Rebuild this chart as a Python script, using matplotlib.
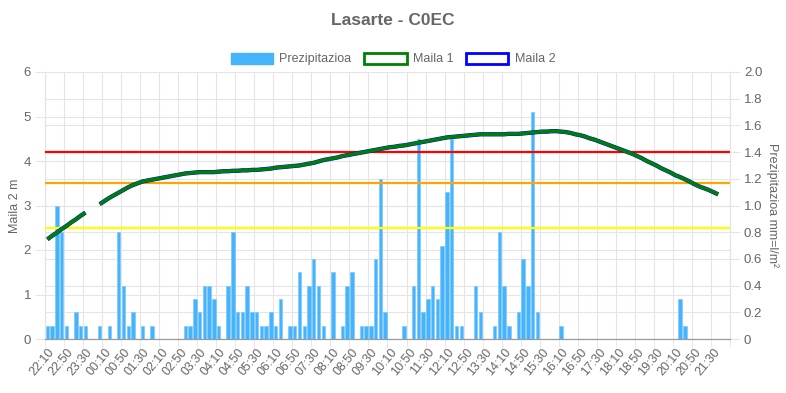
import numpy as np
import matplotlib
matplotlib.use('Agg')
import matplotlib.pyplot as plt
from matplotlib.patches import Patch
from matplotlib.ticker import FixedLocator, FuncFormatter

plt.rcParams['font.family'] = ['Liberation Sans', 'DejaVu Sans']

# denborak (10 minuturo), 22:10 -> 22:00
start = 22 * 60 + 10
times = ['%02d:%02d' % (((start + 10 * i) // 60) % 24, (start + 10 * i) % 60) for i in range(144)]

# prezipitazioa mm
prezipitazioa = [
    0.1, 0.1, 1.0, 0.8, 0.1, 0, 0.2, 0.1, 0.1, 0, 0, 0.1, 0, 0.1, 0, 0.8,
    0.4, 0.1, 0.2, 0, 0.1, 0, 0.1, 0, 0, 0, 0, 0, 0, 0.1, 0.1, 0.3,
    0.2, 0.4, 0.4, 0.3, 0.1, 0, 0.4, 0.8, 0.2, 0.2, 0.4, 0.2, 0.2, 0.1, 0.1, 0.2,
    0.1, 0.3, 0, 0.1, 0.1, 0.5, 0.1, 0.4, 0.6, 0.4, 0.1, 0, 0.5, 0, 0.1, 0.4,
    0.5, 0, 0.1, 0.1, 0.1, 0.6, 1.2, 0.2, 0, 0, 0, 0.1, 0, 0.4, 1.5, 0.2,
    0.3, 0.4, 0.3, 0.7, 1.1, 1.5, 0.1, 0.1, 0, 0, 0.4, 0.2, 0, 0, 0.1, 0.8,
    0.4, 0.1, 0, 0.2, 0.6, 0.4, 1.7, 0.2, 0, 0, 0, 0, 0.1, 0, 0, 0,
    0, 0, 0, 0, 0, 0, 0, 0, 0, 0, 0, 0, 0, 0, 0, 0,
    0, 0, 0, 0, 0, 0.3, 0.1, 0, 0, 0, 0, 0, 0, 0, 0, 0,
]

# maila (m), None = daturik ez
maila_1 = [
    2.24, 2.32, 2.39, 2.47, 2.54, 2.62, 2.69, 2.77, 2.84, None, None, 3.03,
    3.10, 3.17, 3.23, 3.29, 3.35, 3.41, 3.46, 3.50, 3.54, 3.56, 3.58, 3.60,
    3.62, 3.64, 3.66, 3.68, 3.70, 3.72, 3.73, 3.74, 3.75, 3.75, 3.75, 3.75,
    3.76, 3.77, 3.77, 3.78, 3.78, 3.79, 3.79, 3.80, 3.80, 3.81, 3.82, 3.83,
    3.85, 3.86, 3.87, 3.88, 3.89, 3.90, 3.92, 3.94, 3.96, 3.99, 4.02, 4.04,
    4.06, 4.08, 4.11, 4.13, 4.15, 4.17, 4.19, 4.21, 4.23, 4.25, 4.27, 4.29,
    4.31, 4.32, 4.34, 4.35, 4.37, 4.39, 4.41, 4.43, 4.45, 4.47, 4.49, 4.51,
    4.53, 4.54, 4.55, 4.56, 4.57, 4.58, 4.59, 4.60, 4.60, 4.60, 4.60, 4.60,
    4.60, 4.61, 4.61, 4.61, 4.62, 4.63, 4.64, 4.65, 4.66, 4.66, 4.67, 4.67,
    4.66, 4.65, 4.63, 4.60, 4.58, 4.55, 4.51, 4.48, 4.44, 4.40, 4.36, 4.32,
    4.28, 4.24, 4.20, 4.16, 4.11, 4.06, 4.00, 3.95, 3.90, 3.84, 3.79, 3.74,
    3.68, 3.64, 3.59, 3.54, 3.48, 3.43, 3.39, 3.35, 3.30, 3.25, None, None,
]
# Maila 2 ia berdina da irudian
maila_2 = list(maila_1)

# alarma mailak
mailak = [4.2, 3.5, 2.5]
maila_koloreak = ['#ff0000', '#ffa500', '#ffff00']

grey = '#666666'
grid_c = '#e5e5e5'

fig = plt.figure(figsize=(7.86, 3.93), dpi=100)
ax = fig.add_axes([45 / 786, 54 / 393, 685 / 786, 267 / 393])
ax2 = ax.twinx()

x = np.arange(len(times))
n = len(times)

# prezipitazioa barrak (eskuineko ardatza)
ax2.bar(x, prezipitazioa, width=0.72, color='#45b4fd', edgecolor='#7cc9fd', linewidth=0.5, zorder=2)
ax2.set_ylim(0, 2.0)
ax2.set_yticks(np.arange(0, 2.01, 0.2))
ax2.yaxis.set_major_formatter(FuncFormatter(lambda v, p: '0' if v == 0 else '%.1f' % v))
ax2.grid(axis='y', color=grid_c, linewidth=0.8, zorder=0)
ax2.set_ylabel('Prezipitazioa mm=l/m²', color=grey, fontsize=9, rotation=-90, labelpad=12)

# mailak (ezkerreko ardatza)
m1 = np.array([np.nan if v is None else v for v in maila_1])
m2 = np.array([np.nan if v is None else v for v in maila_2])
for val, col in zip(mailak, maila_koloreak):
    ax2.plot([-0.5, n - 0.5], [val / 3, val / 3], color=col, linewidth=1.6, zorder=3)
ax2.plot(x, m2 / 3, color='#0000ff', linewidth=3.1, zorder=4, solid_capstyle='butt')
ax2.plot(x, m1 / 3, color='#008000', linewidth=2.5, zorder=5, solid_capstyle='butt')

ax.set_ylim(0, 6)
ax.set_yticks(range(0, 7))
ax.grid(axis='y', color=grid_c, linewidth=0.8)
ax.set_ylabel('Maila 2 m', color=grey, fontsize=9, labelpad=2)

ax.set_xlim(-0.5, n - 0.5)
ax.xaxis.set_major_locator(FixedLocator(x[::4]))
ax.set_xticklabels(times[::4], rotation=50, ha='right', rotation_mode='anchor', fontsize=9, color=grey)
ax.xaxis.set_minor_locator(FixedLocator(np.arange(-0.5, n, 4)))
ax.grid(axis='x', which='minor', color=grid_c, linewidth=0.8)
ax.tick_params(axis='x', which='major', length=0, pad=5)
ax.tick_params(axis='x', which='minor', length=6, color=grid_c)

ax.tick_params(axis='y', length=7, color=grid_c, labelcolor=grey, labelsize=9.5, pad=3)
ax2.tick_params(axis='y', length=7, color=grid_c, labelcolor=grey, labelsize=9.5, pad=3)

for a in (ax, ax2):
    a.set_axisbelow(True)
    for s in a.spines.values():
        s.set_color(grid_c)
    a.spines['bottom'].set_color('#999999')
    a.spines['top'].set_visible(False)
ax.set_zorder(ax2.get_zorder() - 1)
ax2.patch.set_visible(False)

fig.suptitle('Lasarte - C0EC', x=0.5, y=0.968, fontsize=12.5, fontweight='bold', color=grey)

handles = [
    Patch(facecolor='#45b4fd', edgecolor='#45b4fd', label='Prezipitazioa'),
    Patch(facecolor='white', edgecolor='#008000', linewidth=2, label='Maila 1'),
    Patch(facecolor='white', edgecolor='#0000ff', linewidth=2, label='Maila 2'),
]
leg = fig.legend(handles=handles, loc='center', bbox_to_anchor=(0.5, 0.85), ncol=3, frameon=False,
                 fontsize=9, handlelength=3.4, handleheight=1.0, columnspacing=1.0, handletextpad=0.5)
for t in leg.get_texts():
    t.set_color(grey)

fig.savefig('out.png', dpi=100)
